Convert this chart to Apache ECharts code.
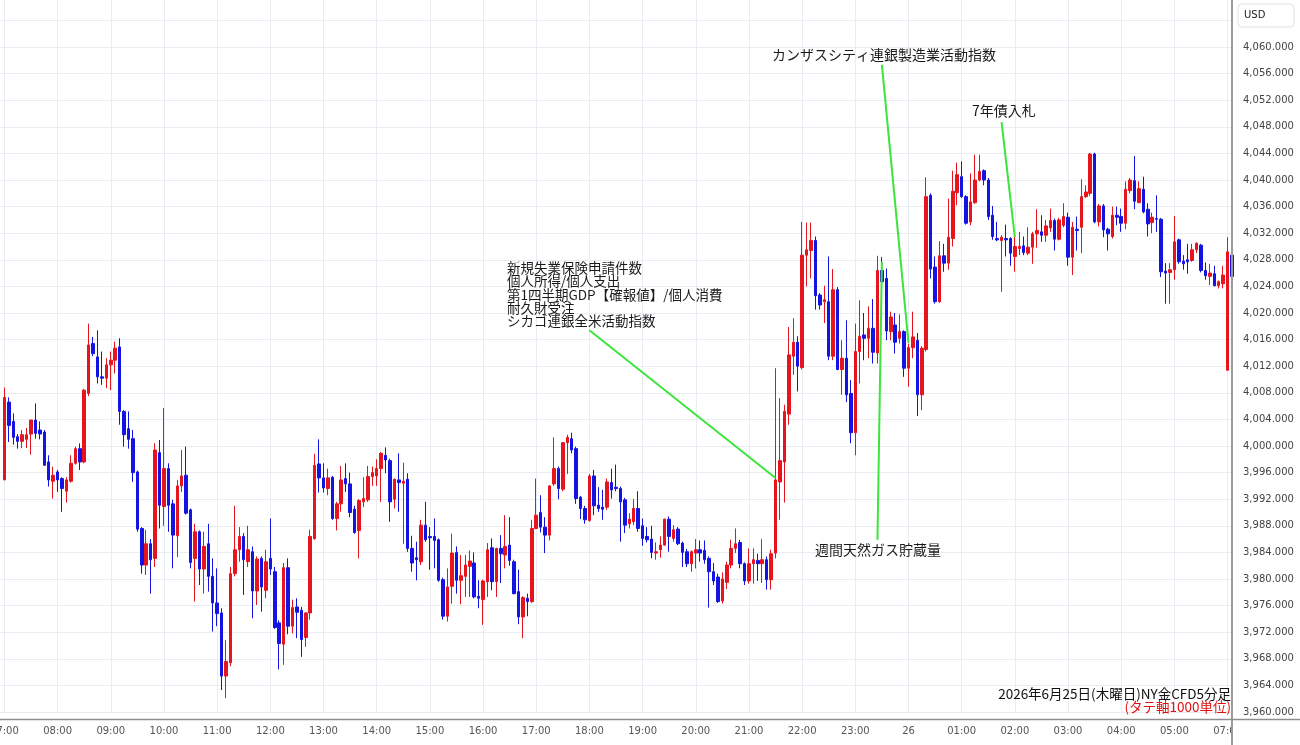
<!DOCTYPE html>
<html>
<head>
<meta charset="utf-8">
<script src="https://cdn.jsdelivr.net/npm/echarts@6.0.0/dist/echarts.min.js"></script>
<style>
html, body { margin: 0; padding: 0; background: #fff; }
#main { width: 1300px; height: 745px; }
</style>
</head>
<body>
<div id="main"></div>
<script>
// NY gold CFD, 5-minute bars, 2026-06-25 07:00 -> 2026-06-26 07:05 (break 06:00-07:00)
const opens = [
  3994.9, 4006.6, 4003.7, 4001.4, 4000.7, 4001.0, 4001.8, 4003.9, 4002.4, 4002.1,
  3997.6, 3994.7, 3996.1, 3995.1, 3993.2, 3994.7, 3997.4, 3999.6, 3997.6, 4007.9,
  4015.4, 4013.4, 4010.4, 4010.2, 4012.2, 4012.9, 4014.9, 4005.2, 4002.6, 4001.1,
  3996.1, 3987.6, 3982.1, 3985.3, 3983.1, 3999.0, 3990.9, 3996.6, 3991.3, 3986.5,
  3994.0, 3995.6, 3990.4, 3983.1, 3987.1, 3981.5, 3985.3, 3980.4, 3976.4, 3974.9,
  3965.4, 3967.4, 3980.8, 3984.4, 3986.4, 3982.6, 3984.1, 3978.2, 3983.1, 3978.3,
  3983.1, 3981.1, 3973.4, 3970.2, 3981.7, 3972.9, 3975.8, 3975.3, 3971.2, 3974.9,
  3986.1, 3997.3, 3995.2, 3993.6, 3995.3, 3989.1, 3991.3, 3995.1, 3994.3, 3990.5,
  3987.3, 3991.6, 3991.9, 3995.4, 3995.5, 3996.6, 3998.6, 3997.8, 3992.0, 3994.9,
  3994.4, 3995.0, 3984.6, 3983.2, 3982.6, 3988.1, 3986.4, 3986.4, 3985.9, 3979.9,
  3974.4, 3978.9, 3984.0, 3979.8, 3980.4, 3981.9, 3982.4, 3977.4, 3976.9, 3979.6,
  3984.7, 3979.6, 3984.6, 3983.6, 3985.1, 3982.6, 3978.1, 3974.3, 3977.1, 3976.6,
  3987.6, 3990.0, 3987.8, 3986.6, 3994.3, 3996.6, 3993.5, 4000.5, 4001.1, 3999.6,
  3992.3, 3990.6, 3988.8, 3995.5, 3991.1, 3990.8, 3990.8, 3994.5, 3993.8, 3993.6,
  3991.9, 3988.3, 3988.6, 3990.6, 3988.0, 3986.4, 3986.0, 3983.9, 3984.4, 3985.1,
  3989.0, 3986.1, 3987.5, 3985.4, 3984.1, 3982.3, 3983.9, 3984.4, 3984.3, 3983.1,
  3981.1, 3980.3, 3976.7, 3979.5, 3982.1, 3984.6, 3985.5, 3982.3, 3979.7, 3982.3,
  3982.8, 3982.3, 3982.9, 3979.9, 3983.9, 3994.6, 3997.6, 4004.8, 4013.5, 4015.6,
  4011.8, 4028.7, 4029.4, 4030.9, 4022.7, 4021.7, 4021.7, 4013.5, 4023.5, 4011.5,
  4013.2, 4007.9, 4002.0, 4014.2, 4016.7, 4016.2, 4017.7, 4014.0, 4026.4, 4025.2,
  4017.2, 4018.2, 4016.2, 4017.2, 4011.7, 4014.8, 4015.9, 4007.7, 4014.5, 4037.7,
  4026.9, 4021.7, 4028.6, 4027.5, 4031.2, 4038.1, 4040.5, 4037.5, 4033.7, 4036.6,
  4040.0, 4041.4, 4040.0, 4034.7, 4031.2, 4030.9, 4031.2, 4031.2, 4028.5, 4029.7,
  4030.1, 4029.0, 4029.9, 4031.9, 4032.2, 4031.7, 4032.8, 4033.9, 4031.1, 4033.2,
  4034.4, 4028.4, 4032.6, 4032.9, 4037.5, 4038.0, 4043.9, 4033.7, 4036.1, 4032.6,
  4031.5, 4034.7, 4034.5, 4033.5, 4038.4, 4039.9, 4036.6, 4038.6, 4035.6, 4033.6,
  4034.2, 4034.1, 4026.3, 4026.1, 4026.5, 4031.0, 4027.8, 4028.0, 4027.9, 4029.5,
  4030.2, 4026.4, 4025.5, 4025.9, 4024.1, 4024.4, 4011.4, 4028.7
];
const closes = [
  4007.3, 4003.1, 4001.3, 4000.7, 4001.7, 4001.7, 4003.9, 4001.9, 4001.8, 3997.1,
  3994.9, 3995.6, 3994.9, 3993.6, 3994.9, 3997.4, 3999.6, 3997.6, 4008.4, 4015.2,
  4013.9, 4010.4, 4010.2, 4012.2, 4012.9, 4014.7, 4005.2, 4001.7, 4001.0, 3996.0,
  3987.5, 3982.1, 3985.3, 3982.9, 3999.4, 3991.1, 3996.6, 3991.1, 3986.6, 3994.0,
  3995.5, 3989.9, 3982.5, 3987.1, 3981.5, 3984.9, 3980.4, 3976.4, 3974.8, 3965.4,
  3967.6, 3980.8, 3984.4, 3986.4, 3982.9, 3984.4, 3978.2, 3983.0, 3978.8, 3982.6,
  3981.5, 3972.7, 3970.3, 3981.7, 3972.9, 3975.7, 3975.0, 3970.9, 3974.9, 3986.4,
  3997.1, 3995.2, 3993.7, 3995.2, 3989.1, 3991.3, 3994.9, 3994.3, 3990.0, 3987.0,
  3991.8, 3992.1, 3995.4, 3996.0, 3996.6, 3998.9, 3997.9, 3991.6, 3995.0, 3994.5,
  3994.7, 3984.6, 3982.4, 3982.9, 3988.1, 3985.9, 3986.2, 3985.8, 3979.8, 3974.4,
  3978.8, 3983.9, 3979.8, 3980.5, 3982.1, 3982.7, 3977.3, 3977.1, 3979.7, 3984.4,
  3979.6, 3984.6, 3983.8, 3984.9, 3982.8, 3977.8, 3974.3, 3977.2, 3976.6, 3987.6,
  3989.6, 3987.8, 3986.6, 3994.0, 3996.6, 3993.6, 4000.5, 4001.3, 3999.4, 3992.1,
  3990.6, 3988.9, 3995.5, 3991.0, 3990.6, 3990.5, 3994.6, 3993.4, 3993.6, 3991.6,
  3988.1, 3989.0, 3990.6, 3987.6, 3986.1, 3985.9, 3984.0, 3984.1, 3985.1, 3989.0,
  3986.4, 3987.4, 3985.3, 3984.0, 3982.3, 3984.1, 3984.4, 3983.9, 3982.9, 3981.1,
  3979.7, 3976.6, 3980.0, 3982.1, 3984.6, 3985.3, 3982.3, 3979.7, 3982.3, 3982.9,
  3982.3, 3982.9, 3979.9, 3983.8, 3994.9, 3997.8, 4005.2, 4013.7, 4015.6, 4012.0,
  4028.7, 4029.5, 4030.9, 4022.6, 4021.2, 4022.0, 4013.5, 4023.5, 4011.5, 4013.2,
  4007.7, 4002.0, 4014.2, 4016.5, 4016.2, 4017.7, 4014.1, 4026.4, 4024.7, 4017.3,
  4019.4, 4015.6, 4017.2, 4011.7, 4014.8, 4016.4, 4007.7, 4014.7, 4037.5, 4026.6,
  4021.7, 4028.6, 4027.5, 4031.4, 4038.3, 4040.8, 4037.5, 4033.5, 4036.7, 4040.0,
  4041.3, 4040.0, 4034.5, 4031.5, 4031.0, 4031.4, 4031.0, 4029.0, 4030.0, 4030.0,
  4029.1, 4029.9, 4031.9, 4032.4, 4031.7, 4033.1, 4033.9, 4031.1, 4034.0, 4034.5,
  4028.4, 4032.9, 4032.4, 4037.5, 4038.2, 4043.9, 4033.7, 4036.1, 4032.5, 4031.9,
  4034.7, 4034.4, 4033.5, 4038.6, 4040.0, 4036.8, 4038.7, 4035.2, 4033.4, 4034.4,
  4034.1, 4026.2, 4026.0, 4026.5, 4030.7, 4027.7, 4027.4, 4027.7, 4029.5, 4030.5,
  4026.4, 4025.6, 4026.0, 4024.1, 4024.7, 4025.7, 4029.2, 4025.5
];
const lows = [
  3994.9, 4000.6, 4000.2, 3999.6, 3999.7, 3999.7, 3998.7, 4001.1, 4001.0, 3997.1,
  3993.9, 3992.1, 3993.1, 3990.1, 3991.5, 3994.5, 3997.2, 3996.4, 3997.4, 4007.5,
  4013.5, 4009.4, 4009.2, 4008.7, 4008.4, 4010.9, 4003.2, 3999.9, 3999.6, 3994.6,
  3987.1, 3980.8, 3980.6, 3977.8, 3981.8, 3987.6, 3988.0, 3987.1, 3981.6, 3983.3,
  3993.1, 3989.7, 3981.6, 3976.6, 3979.1, 3977.8, 3978.1, 3972.1, 3972.9, 3963.3,
  3962.1, 3966.9, 3980.4, 3982.6, 3977.6, 3981.8, 3974.1, 3976.1, 3975.1, 3977.1,
  3980.6, 3972.5, 3966.4, 3967.1, 3971.7, 3971.8, 3971.1, 3968.3, 3969.8, 3973.9,
  3985.9, 3993.0, 3993.0, 3992.6, 3988.9, 3987.3, 3990.1, 3993.1, 3989.3, 3986.8,
  3983.1, 3990.8, 3991.6, 3994.0, 3994.0, 3991.6, 3995.9, 3988.6, 3990.6, 3990.1,
  3985.3, 3984.1, 3981.1, 3979.8, 3982.1, 3985.6, 3981.4, 3981.6, 3979.6, 3973.9,
  3973.6, 3976.3, 3977.8, 3976.2, 3977.3, 3977.3, 3977.1, 3975.6, 3973.1, 3977.3,
  3978.3, 3977.3, 3979.4, 3981.6, 3982.0, 3977.7, 3973.2, 3971.1, 3974.4, 3976.4,
  3987.5, 3987.0, 3983.9, 3985.8, 3994.0, 3992.0, 3993.2, 3995.8, 3998.9, 3991.3,
  3989.0, 3988.3, 3988.6, 3989.6, 3990.1, 3988.9, 3990.4, 3992.1, 3993.2, 3985.6,
  3986.9, 3987.6, 3988.1, 3987.1, 3985.0, 3985.5, 3983.1, 3982.9, 3983.2, 3985.0,
  3984.1, 3985.6, 3985.1, 3981.8, 3981.8, 3981.1, 3981.6, 3982.6, 3982.3, 3975.7,
  3979.1, 3976.4, 3976.3, 3978.5, 3981.6, 3983.9, 3981.6, 3979.1, 3979.3, 3979.3,
  3979.7, 3979.4, 3978.4, 3978.4, 3983.1, 3988.9, 3991.5, 4003.2, 4010.7, 4008.2,
  4011.5, 4024.0, 4025.2, 4020.5, 4020.5, 4018.5, 4012.9, 4012.9, 4011.4, 4007.7,
  4006.6, 4000.4, 3998.6, 4009.4, 4012.9, 4013.2, 4012.4, 4012.4, 4021.7, 4015.9,
  4015.9, 4013.9, 4015.4, 4010.4, 4008.9, 4013.2, 4004.5, 4005.4, 4014.2, 4025.2,
  4021.4, 4021.5, 4026.2, 4026.5, 4030.0, 4036.2, 4037.3, 4033.3, 4033.2, 4036.4,
  4039.8, 4039.2, 4034.0, 4031.0, 4030.8, 4023.2, 4028.5, 4027.1, 4026.2, 4028.7,
  4028.7, 4028.7, 4027.4, 4029.8, 4030.7, 4030.7, 4032.2, 4029.4, 4030.9, 4032.9,
  4027.1, 4025.7, 4029.4, 4029.0, 4037.3, 4037.6, 4033.5, 4033.0, 4031.4, 4029.4,
  4031.2, 4033.2, 4032.2, 4032.6, 4038.0, 4035.6, 4036.5, 4035.0, 4031.5, 4032.0,
  4032.2, 4025.4, 4021.4, 4021.4, 4025.0, 4027.4, 4026.5, 4025.9, 4027.7, 4029.0,
  4026.1, 4025.0, 4024.2, 4024.0, 4023.7, 4023.7, 4011.4, 4025.3
];
const highs = [
  4008.8, 4007.3, 4004.9, 4001.8, 4002.4, 4002.7, 4003.9, 4006.4, 4003.7, 4002.4,
  3998.6, 3996.9, 3996.4, 3995.3, 3995.3, 3998.6, 3999.9, 4000.4, 4008.6, 4018.4,
  4016.4, 4017.4, 4014.2, 4013.2, 4014.2, 4015.7, 4016.2, 4005.4, 4005.2, 4002.4,
  3996.3, 3987.8, 3987.4, 3986.0, 4000.4, 4000.9, 4005.7, 3997.4, 3991.9, 3994.9,
  3999.4, 3999.9, 3990.6, 3988.3, 3987.3, 3987.1, 3988.3, 3983.1, 3981.6, 3975.6,
  3970.8, 3981.8, 3991.0, 3987.8, 3986.9, 3988.0, 3984.9, 3983.4, 3983.4, 3984.4,
  3989.1, 3981.8, 3973.8, 3982.4, 3983.1, 3976.9, 3977.1, 3975.8, 3975.0, 3987.4,
  3998.8, 4001.0, 3997.4, 3996.6, 3995.5, 3991.6, 3997.0, 3997.4, 3996.0, 3991.0,
  3992.0, 3995.3, 3997.0, 3996.9, 3998.0, 3999.1, 3999.8, 3998.1, 3995.1, 3998.9,
  3997.5, 3995.9, 3986.5, 3985.6, 3988.9, 3991.6, 3987.8, 3989.1, 3986.1, 3980.2,
  3981.6, 3986.8, 3984.9, 3983.6, 3983.6, 3984.3, 3984.0, 3979.8, 3979.9, 3985.4,
  3986.1, 3984.7, 3986.6, 3989.6, 3989.3, 3982.9, 3981.4, 3977.4, 3977.8, 3988.9,
  3995.1, 3992.6, 3989.3, 3994.1, 4001.3, 3996.9, 4000.6, 4001.7, 4002.0, 3999.9,
  3992.5, 3991.0, 3995.8, 3996.4, 3993.8, 3993.4, 3995.1, 3996.6, 3997.2, 3993.9,
  3992.2, 3989.9, 3992.0, 3993.2, 3989.1, 3987.8, 3988.0, 3985.5, 3986.4, 3989.1,
  3989.4, 3988.1, 3987.8, 3985.6, 3984.5, 3984.3, 3986.0, 3985.8, 3985.8, 3983.4,
  3982.4, 3980.8, 3981.0, 3982.6, 3985.9, 3987.6, 3985.9, 3982.5, 3984.6, 3984.6,
  3983.8, 3986.0, 3983.4, 3984.4, 4011.7, 4007.2, 4006.2, 4017.9, 4019.2, 4016.5,
  4033.7, 4033.6, 4033.6, 4031.5, 4023.0, 4024.1, 4028.5, 4026.6, 4023.9, 4015.9,
  4018.9, 4009.9, 4018.4, 4021.9, 4020.0, 4021.0, 4022.1, 4028.6, 4028.4, 4026.7,
  4020.2, 4020.0, 4019.8, 4017.4, 4015.4, 4020.2, 4017.0, 4015.0, 4040.4, 4038.0,
  4028.5, 4030.8, 4030.4, 4037.2, 4041.4, 4042.6, 4042.8, 4037.7, 4041.0, 4043.8,
  4043.8, 4041.6, 4040.3, 4036.1, 4033.7, 4031.7, 4033.3, 4031.4, 4031.5, 4032.2,
  4031.5, 4032.9, 4032.2, 4035.6, 4034.7, 4034.0, 4035.7, 4034.2, 4034.3, 4036.5,
  4035.1, 4033.7, 4034.5, 4040.1, 4039.2, 4044.1, 4044.1, 4036.4, 4036.4, 4032.8,
  4036.0, 4036.0, 4035.7, 4039.8, 4040.3, 4043.6, 4039.8, 4040.5, 4036.5, 4035.1,
  4037.7, 4034.3, 4027.5, 4027.5, 4034.6, 4031.2, 4028.7, 4030.4, 4030.4, 4030.6,
  4030.4, 4027.6, 4027.4, 4027.1, 4024.9, 4027.1, 4031.4, 4029.7
];

// time categories: one empty slot before 07:00, then 5-minute bars, market break 06:00-07:00
const categories = ['25 06:55'];
function pad2(n) { return (n < 10 ? '0' : '') + n; }
for (let m = 7 * 60; m <= 29 * 60 + 55; m += 5) {
  const day = m >= 1440 ? 26 : 25;
  const t = m % 1440;
  categories.push(day + ' ' + pad2(Math.floor(t / 60)) + ':' + pad2(t % 60));
}
categories.push('26 07:00', '26 07:05');

// price axis
const priceMin = 3960;
const priceMax = 4068;
const priceStep = 4;

// event annotations: [start, end] as [category, price]
const noteLines = [
  [['25 18:00', 4017.4], ['25 21:30', 3995.2]],
  [['25 23:30', 4057.3], ['26 00:00', 4015.5]],
  [['25 23:25', 3985.9], ['25 23:30', 4027.7]],
  [['26 01:45', 4048.7], ['26 02:00', 4031.4]]
];

const UP = '#e6141c';
const DOWN = '#1414e2';
const GREEN = '#3be53b';
const CJK = '"Noto Sans CJK JP", sans-serif';

const candleData = [['-', '-', '-', '-']];
for (let i = 0; i < opens.length; i++) {
  candleData.push([opens[i], closes[i], lows[i], highs[i]]);
}

function fmtPrice(v) {
  const s = String(Math.round(v));
  return s.slice(0, s.length - 3) + ',' + s.slice(-3) + '.000';
}

const chart = echarts.init(document.getElementById('main'));

const option = {
  animation: false,
  backgroundColor: '#ffffff',
  grid: { left: 0, right: 68, top: -6.2, bottom: 33, outerBoundsMode: 'none', containLabel: false },
  xAxis: {
    type: 'category',
    data: categories,
    boundaryGap: false,
    offset: 7,
    axisLine: { show: false },
    axisTick: { show: false },
    axisLabel: {
      interval: function (index, value) { return value.slice(-2) === '00'; },
      formatter: function (value) {
        return value.slice(3) === '00:00' ? value.slice(0, 2) : value.slice(3);
      },
      color: '#555',
      fontSize: 10,
      fontFamily: 'DejaVu Sans',
      margin: 7
    },
    splitLine: { show: true, lineStyle: { color: '#e7edf2', width: 1 } }
  },
  yAxis: {
    type: 'value',
    position: 'right',
    min: priceMin,
    max: priceMax,
    interval: priceStep,
    axisLine: { show: false },
    axisTick: { show: false },
    axisLabel: {
      formatter: fmtPrice,
      color: '#444',
      fontSize: 10,
      fontFamily: 'DejaVu Sans',
      margin: 11
    },
    splitLine: { show: true, lineStyle: { color: '#e7edf2', width: 1 } }
  },
  series: [{
    type: 'candlestick',
    data: candleData,
    barWidth: 3,
    itemStyle: {
      color: UP,
      color0: DOWN,
      borderColor: UP,
      borderColor0: DOWN,
      borderWidth: 1
    },
    markLine: {
      silent: true,
      symbol: ['none', 'none'],
      label: { show: false },
      lineStyle: { color: GREEN, width: 2, type: 'solid' },
      emphasis: { disabled: true },
      data: noteLines.map(function (pair) {
        return [{ coord: pair[0] }, { coord: pair[1] }];
      })
    }
  }],
  graphic: [
    // hide overflow of the last time label into the price panel
    { type: 'rect', z: 90, shape: { x: 1233, y: 720, width: 67, height: 25 }, style: { fill: '#fff' } },
    { type: 'line', z: 95, shape: { x1: 1232, y1: 0, x2: 1232, y2: 745 }, style: { stroke: '#9c9c9c', lineWidth: 2 } },
    { type: 'line', z: 95, shape: { x1: 0, y1: 719.5, x2: 1300, y2: 719.5 }, style: { stroke: '#8e8e8e', lineWidth: 1.5 } },
    { type: 'rect', z: 96, shape: { x: 1238, y: 4, width: 56, height: 23, r: 4 }, style: { fill: '#fff', stroke: '#e2e2e2', lineWidth: 1 } },
    { type: 'text', z: 97, style: { text: 'USD', x: 1244, y: 15.5, fill: '#222', font: '10px "DejaVu Sans"', verticalAlign: 'middle' } },
    { type: 'text', z: 97, style: {
        text: '新規失業保険申請件数\n個人所得/個人支出\n第1四半期GDP【確報値】/個人消費\n耐久財受注\nシカゴ連銀全米活動指数',
        x: 507, y: 261.5, fill: '#1a1a1a', font: '13.5px ' + CJK, lineHeight: 13.2, verticalAlign: 'top' } },
    { type: 'text', z: 97, style: { text: 'カンザスシティ連銀製造業活動指数', x: 772, y: 55, fill: '#1a1a1a', font: '14px ' + CJK, verticalAlign: 'middle' } },
    { type: 'text', z: 97, style: { text: '7年債入札', x: 972, y: 111, fill: '#1a1a1a', font: '14px ' + CJK, verticalAlign: 'middle' } },
    { type: 'text', z: 97, style: { text: '週間天然ガス貯蔵量', x: 815, y: 550, fill: '#1a1a1a', font: '14px ' + CJK, verticalAlign: 'middle' } },
    { type: 'text', z: 97, style: { text: '2026年6月25日(木曜日)NY金CFD5分足', x: 1231, y: 693.5, fill: '#111', font: '13.5px ' + CJK, align: 'right', verticalAlign: 'middle' } },
    { type: 'text', z: 97, style: { text: '(タテ軸1000単位)', x: 1231, y: 706.5, fill: '#e01010', font: '13.5px ' + CJK, align: 'right', verticalAlign: 'middle' } }
  ]
};

chart.setOption(option);
</script>
</body>
</html>
